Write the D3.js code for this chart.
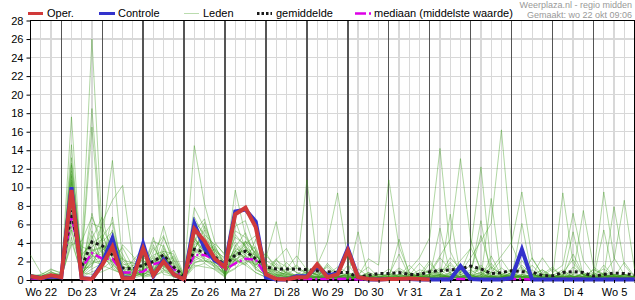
<!DOCTYPE html>
<html>
<head>
<meta charset="utf-8">
<script src="https://d3js.org/d3.v7.min.js"></script>
<style>
body { margin: 0; background: #fff; }
svg { display: block; font-family: "Liberation Sans", Arial, sans-serif; }
</style>
</head>
<body>
<div id="container"></div>
<script>

// day labels (label sits at 12h of each day, steps are 6 hours, first step = wo 22 06h)
var days = ["Wo 22", "Do 23", "Vr 24", "Za 25", "Zo 26", "Ma 27", "Di 28", "Wo 29",
            "Do 30", "Vr 31", "Za 1", "Zo 2", "Ma 3", "Di 4", "Wo 5"];
var yTicks = [0, 2, 4, 6, 8, 10, 12, 14, 16, 18, 20, 22, 24, 26, 28];

// operational run (stops after ~10 days)
var oper = [0.4, 0.2, 0.5, 0.3, 9.7, 0.2, 0.1, 1.6, 3.6, 0.2, 0.2, 3.4, 0.5, 2.0, 0.6,
            0.05, 5.5, 4.2, 2.3, 1.4, 7.1, 7.8, 5.7, 0.6, 0.1, 0.05, 0.3, 0.3, 1.7, 0.3, 0.6,
            3.2, 0.3, 0.1, 0.05, 0.1, 0.1, 0.15, 0.1, 0.05];

var controle = [0.4, 0.2, 0.4, 0.3, 10.0, 0.2, 0.1, 1.8, 4.5, 0.3, 0.2, 3.9, 0.4, 2.2, 0.6,
                0.05, 6.1, 3.4, 2.1, 1.6, 7.4, 7.6, 6.3, 0.3, 0.05, 0.05, 0.4, 0.4, 1.5, 0.5, 0.7,
                3.4, 0.3, 0.05, 0.05, 0.1, 0.1, 0.1, 0.05, 0.05, 0.05, 0.05, 1.5, 0.1, 0.05, 0.05, 0.05,
                0.2, 3.3, 0.05, 0.05, 0.05, 0.05, 0.05, 0.05, 0.05, 0.05, 0.05, 0.05, 0.05];

var gemiddelde = [0.3, 0.3, 0.4, 0.4, 7.5, 1.4, 4.1, 3.7, 2.7, 1.3, 1.2, 1.6, 2.0, 2.7, 1.4,
                  0.4, 3.3, 3.0, 2.5, 1.6, 2.7, 3.1, 2.3, 1.4, 1.2, 1.2, 1.2, 1.1, 1.0, 0.9, 0.8,
                  0.8, 0.3, 0.5, 0.7, 0.7, 0.8, 0.6, 0.6, 0.9, 1.0, 1.1, 1.2, 1.5, 1.2, 0.7, 0.8,
                  1.0, 0.9, 0.85, 0.5, 0.45, 0.8, 0.9, 0.8, 0.4, 0.6, 0.75, 0.7, 0.55];

var mediaan = [0.2, 0.1, 0.3, 0.3, 7.0, 1.3, 2.9, 2.3, 2.3, 0.8, 0.8, 0.9, 1.7, 2.0, 1.2,
               0.3, 2.7, 2.7, 2.2, 1.1, 1.8, 2.3, 2.2, 0.5, 0.2, 0.1, 0.15, 0.1, 0.1, 0.1, 0.1,
               0.15, 0.05, 0.05, 0.05, 0.05, 0.1, 0.05, 0.05, 0.05, 0.1, 0.15, 0.1, 0.1, 0.05, 0.05, 0.05,
               0.1, 0.1, 0.05, 0.05, 0.05, 0.1, 0.15, 0.1, 0.05, 0.1, 0.1, 0.1, 0.1];

// ensemble members ("leden"), one row per member, grouped per day
var leden = [
  "0.5 0.3 0.8 | 0.6 8.2 3.1 26.0 | 5.2 1.4 0.6 0.3 | 1.2 3.5 1.8 0.4 | 0.2 4.8 2.2 1.5 | 0.8 2.4 3.6 1.2 | 0.5 1.8 0.9 0.3 | 0.2 0.6 1.4 0.3 | 0.2 0.5 0.1 0.4 | 1.2 0.3 0.1 0.6 | 2.1 0.4 0.2 0.8 | 3.5 1.2 0.3 0.2 | 0.6 1.4 0.2 0.1 | 0.3 0.8 2.2 0.5 | 0.2 1.6 0.4 0.3 | 0.2",
  "0.2 0.1 0.4 | 0.3 6.5 2.4 18.5 | 4.1 5.2 1.3 0.8 | 0.5 1.4 4.6 2.1 | 0.3 3.2 5.8 3.4 | 2.2 4.1 2.6 1.8 | 0.9 0.4 1.2 2.6 | 1.1 0.5 0.3 0.2 | 0.1 0.4 0.2 0.1 | 0.3 0.1 0.5 1.8 | 0.6 2.4 1.1 0.3 | 0.2 0.1 0.4 1.3 | 0.5 0.2 0.1 0.6 | 1.4 0.3 0.2 0.8 | 0.3 0.2 0.5 0.1 | 0.1",
  "0.3 0.2 0.6 | 0.5 17.6 1.2 5.3 | 2.8 3.1 0.4 1.6 | 2.2 0.8 3.4 1.5 | 0.1 2.8 3.9 2.6 | 1.4 1.6 4.2 3.3 | 1.1 2.3 0.6 0.5 | 0.4 0.2 1.8 0.6 | 0.3 0.1 0.2 0.6 | 0.5 2.8 0.4 0.2 | 0.1 0.3 1.9 0.6 | 0.2 0.1 0.1 0.4 | 0.8 0.3 1.1 0.2 | 0.1 0.5 0.3 0.2 | 0.6 1.2 0.4 0.2 | 0.3",
  "0.4 0.3 0.5 | 0.2 14.6 0.8 3.6 | 4.4 12.9 2.1 0.9 | 1.1 0.6 2.7 0.8 | 0.3 4.1 6.2 2.9 | 1.9 5.3 4.6 2.7 | 1.4 0.6 0.3 0.2 | 0.1 0.4 0.2 0.3 | 1.6 0.4 0.1 0.2 | 0.1 0.2 0.1 0.3 | 0.6 1.1 0.4 1.2 | 0.3 0.1 2.6 0.4 | 0.2 0.6 0.3 0.1 | 0.2 0.1 1.4 0.6 | 0.2 0.1 0.3 1.9 | 0.4",
  "0.2 0.4 0.9 | 0.3 11.2 1.8 2.4 | 6.2 8.6 10.2 2.4 | 0.6 1.2 1.9 2.6 | 0.5 3.6 2.1 1.8 | 0.6 3.2 2.4 1.6 | 2.9 1.1 0.4 0.2 | 0.1 1.2 0.6 0.4 | 0.2 0.6 1.4 0.3 | 0.2 0.1 0.6 0.4 | 0.3 0.2 0.8 0.2 | 0.1 1.6 0.5 0.2 | 0.3 0.4 0.2 0.9 | 0.3 0.2 0.1 0.4 | 0.8 0.3 0.2 0.1 | 0.2",
  "0.1 0.2 0.3 | 0.4 9.4 0.6 4.8 | 1.9 2.2 3.5 1.4 | 0.8 2.6 1.5 0.9 | 0.4 14.5 8.2 4.1 | 2.6 2.1 1.8 4.4 | 1.6 0.8 0.6 1.3 | 0.7 0.3 0.2 0.1 | 0.2 0.3 0.8 0.4 | 0.1 0.3 0.2 0.1 | 0.4 0.2 0.6 0.3 | 0.9 4.8 1.2 0.4 | 0.6 0.2 0.1 0.3 | 0.5 1.1 0.3 0.2 | 0.1 0.4 0.6 0.3 | 0.2",
  "0.6 0.5 1.2 | 0.7 12.4 0.4 3.2 | 3.6 1.8 0.5 0.7 | 2.4 1.8 3.1 0.7 | 0.2 5.6 3.8 1.9 | 1.2 3.6 5.1 2.4 | 0.8 2.2 3.4 1.2 | 10.8 2.1 0.6 0.3 | 0.5 0.2 0.3 0.1 | 0.2 0.6 0.3 0.2 | 0.4 0.8 0.2 0.1 | 0.3 0.5 1.8 0.4 | 0.2 0.1 0.3 0.6 | 0.4 0.2 0.8 0.3 | 0.2 0.1 0.4 0.6 | 0.3",
  "0.3 0.2 0.2 | 0.4 7.8 1.4 6.1 | 5.6 3.4 1.1 0.4 | 0.7 2.1 2.4 3.2 | 0.6 2.3 2.8 3.3 | 1.8 4.6 3.8 1.3 | 2.1 1.4 0.8 0.5 | 0.3 1.6 4.1 9.4 | 2.2 0.6 0.3 0.2 | 0.4 1.3 0.6 0.2 | 0.1 0.3 0.4 0.6 | 1.1 0.4 0.2 0.3 | 0.2 0.5 2.4 0.6 | 0.3 0.2 0.1 0.3 | 0.2 0.6 0.4 0.2 | 0.3",
  "0.5 0.4 0.3 | 0.2 10.6 0.9 7.2 | 2.9 1.2 0.6 0.8 | 3.8 1.1 1.6 0.3 | 0.1 6.4 4.9 3.8 | 1.3 2.8 3.3 2.6 | 1.7 0.6 1.9 0.8 | 0.4 0.9 0.6 1.4 | 0.8 0.4 2.3 1.6 | 10.8 3.6 0.8 0.4 | 0.2 0.6 0.3 0.2 | 0.5 0.2 0.8 2.2 | 0.6 0.3 0.2 0.1 | 0.3 0.6 0.4 0.2 | 1.2 0.5 0.3 0.2 | 0.4",
  "0.2 0.1 0.6 | 0.3 6.2 2.8 3.9 | 4.8 2.6 1.6 1.9 | 1.4 0.4 2.2 1.8 | 0.2 3.8 4.4 2.1 | 0.9 2.2 2.8 3.6 | 0.6 1.1 0.4 0.3 | 0.8 0.6 0.3 1.1 | 0.4 0.2 0.6 0.3 | 0.6 0.4 1.1 2.4 | 4.6 14.2 3.1 0.8 | 0.6 1.2 0.4 0.3 | 0.8 0.3 0.6 0.2 | 0.2 0.9 0.4 0.3 | 0.3 0.2 0.2 0.6 | 0.3",
  "0.3 0.3 0.7 | 0.6 9.8 1.1 2.2 | 3.2 4.1 2.8 0.6 | 0.9 3.8 1.4 0.6 | 0.3 2.6 1.9 2.8 | 1.1 1.8 2.2 1.4 | 0.4 0.2 0.9 1.6 | 0.6 0.3 0.2 0.4 | 0.3 1.2 0.4 0.2 | 0.1 0.2 0.4 1.1 | 0.8 2.6 4.4 13.1 | 4.4 0.8 0.3 0.2 | 0.4 1.6 0.6 0.3 | 0.2 0.4 2.8 0.6 | 0.3 0.4 0.2 0.5 | 0.2",
  "0.4 0.2 0.4 | 0.2 5.4 0.7 1.8 | 2.1 6.8 0.9 0.4 | 0.6 0.9 3.8 1.1 | 0.4 5.2 6.6 2.4 | 0.7 6.4 3.4 2.2 | 1.2 0.6 0.4 0.6 | 1.3 0.5 0.9 0.4 | 0.2 0.4 0.2 0.6 | 0.3 0.6 0.2 0.4 | 0.6 1.3 0.8 2.1 | 3.4 12.2 1.4 0.6 | 0.3 0.2 0.6 1.1 | 0.4 0.3 0.2 0.6 | 0.2 0.8 0.5 0.3 | 0.2",
  "0.2 0.3 0.5 | 0.4 8.6 1.6 2.8 | 1.4 3.3 0.8 0.3 | 1.6 2.4 0.6 0.4 | 0.2 1.8 2.4 1.7 | 0.5 3.1 4.2 1.9 | 0.9 0.4 0.2 0.3 | 0.6 0.8 0.4 0.2 | 0.3 0.2 0.5 0.2 | 0.6 0.3 0.4 0.8 | 0.5 0.9 1.6 0.8 | 2.4 4.2 6.1 16.2 | 3.8 1.2 0.6 0.3 | 0.2 0.4 0.2 0.3 | 1.1 0.6 0.3 0.2 | 0.4",
  "0.1 0.1 0.3 | 0.2 6.8 0.5 1.6 | 3.8 2.4 0.3 0.2 | 0.5 1.6 2.9 0.8 | 0.1 4.4 3.2 1.3 | 0.6 3.8 2.1 1.7 | 0.5 0.3 0.1 0.2 | 0.4 0.2 0.6 0.3 | 0.1 0.2 0.3 0.1 | 0.2 0.4 0.3 0.6 | 0.9 0.4 0.3 0.2 | 0.5 0.8 1.2 2.6 | 4.1 9.5 2.3 0.6 | 0.4 9.4 1.8 0.6 | 0.3 0.6 0.4 0.3 | 0.2",
  "0.3 0.4 0.4 | 0.5 8.8 0.6 2.6 | 2.4 1.6 0.8 1.2 | 0.4 0.7 1.3 2.2 | 0.3 3.3 5.4 2.1 | 0.8 1.9 2.6 1.1 | 0.6 1.4 0.5 0.3 | 0.2 0.3 1.6 0.4 | 0.6 0.3 0.2 0.4 | 0.2 0.4 1.6 0.5 | 0.3 0.2 0.6 0.4 | 0.2 0.6 0.3 0.8 | 0.4 0.2 0.5 2.4 | 0.8 1.6 7.2 2.1 | 0.6 9.5 2.4 0.6 | 0.4",
  "0.2 0.2 0.3 | 0.3 7.2 0.4 1.2 | 1.8 3.8 0.4 0.6 | 1.9 0.4 0.9 0.5 | 0.1 2.1 2.6 3.4 | 0.3 5.8 6.4 3.1 | 0.4 0.2 0.1 0.6 | 0.4 1.1 0.3 0.2 | 0.3 0.6 0.2 0.1 | 0.4 0.2 0.3 0.2 | 0.6 0.3 0.2 1.4 | 0.5 0.3 0.4 0.2 | 0.8 0.3 1.6 0.4 | 0.3 0.2 0.6 7.5 | 1.4 0.6 2.2 8.6 | 1.2",
  "0.4 0.2 0.2 | 0.2 4.6 0.3 0.9 | 1.2 2.1 0.2 0.3 | 0.8 0.3 1.1 0.6 | 0.2 1.6 1.4 1.2 | 0.4 2.3 1.6 0.8 | 0.3 0.1 0.2 0.4 | 0.2 0.1 0.3 0.1 | 0.2 0.1 0.1 0.3 | 0.1 0.2 0.1 0.4 | 0.2 0.6 0.3 0.2 | 0.4 0.8 0.3 0.5 | 0.2 0.6 0.3 0.4 | 1.2 0.4 0.2 0.8 | 0.3 0.5 7.9 1.6 | 0.3",
  "0.3 0.6 1.1 | 0.8 11.8 0.7 1.9 | 2.6 5.4 1.8 1.1 | 0.3 0.5 2.6 1.3 | 0.6 4.6 2.9 2.2 | 0.9 2.6 3.9 4.8 | 2.4 6.3 1.1 0.4 | 0.3 0.2 0.5 0.3 | 0.6 0.4 0.1 0.2 | 0.3 0.2 0.8 0.3 | 0.2 0.4 0.3 0.6 | 0.3 0.2 0.5 0.4 | 0.3 1.2 0.4 0.2 | 0.2 0.3 0.4 0.2 | 0.6 0.3 0.2 0.5 | 0.2",
  "2.7 0.8 0.3 | 0.4 12.6 2.2 4.4 | 6.8 2.4 0.8 0.5 | 1.3 4.2 3.6 0.9 | 0.3 7.8 5.6 2.9 | 1.6 9.7 4.8 2.8 | 0.9 0.5 0.3 0.2 | 1.1 0.4 0.2 0.6 | 0.4 0.2 0.3 0.1 | 0.2 0.6 0.4 0.2 | 0.3 0.5 0.2 0.3 | 0.6 0.2 0.3 0.4 | 0.2 0.4 0.3 0.2 | 0.4 0.2 0.3 0.6 | 0.2 0.3 0.4 0.3 | 0.2",
  "0.6 0.4 0.2 | 0.5 13.2 1.9 16.5 | 3.1 4.6 1.2 1.6 | 0.9 1.9 5.8 1.9 | 0.4 2.9 4.1 1.6 | 1.2 4.9 3.6 2.6 | 1.8 0.9 0.6 0.4 | 0.5 0.2 0.8 0.3 | 0.2 0.3 0.6 0.3 | 0.4 0.2 0.3 0.6 | 0.4 5.6 0.6 0.8 | 1.6 0.6 0.3 0.2 | 0.3 0.4 0.2 0.3 | 0.6 0.3 0.2 0.4 | 0.3 0.2 0.6 0.4 | 0.3",
  "0.1 0.3 0.4 | 0.6 10.4 0.3 3.4 | 2.2 3.2 0.9 0.7 | 2.8 1.3 2.2 1.1 | 0.2 5.1 3.6 2.6 | 1.5 3.4 2.9 2.1 | 1.3 0.4 0.3 0.2 | 0.3 0.4 0.2 0.2 | 0.8 0.3 0.2 0.6 | 0.3 1.1 0.4 0.2 | 1.2 0.4 0.8 0.3 | 0.6 6.4 0.2 0.3 | 0.5 0.3 0.4 1.1 | 0.3 0.2 0.6 0.3 | 0.2 0.4 0.3 0.2 | 0.4",
  "0.4 0.1 0.3 | 0.2 5.8 0.6 2.1 | 1.6 1.1 0.7 2.1 | 3.4 0.6 1.7 0.7 | 0.5 3.1 2.6 3.9 | 2.8 2.1 1.6 3.2 | 0.7 0.3 0.2 0.1 | 0.2 0.1 0.4 0.6 | 0.3 0.2 0.8 0.4 | 0.2 0.3 0.1 0.2 | 0.6 0.3 7.1 0.4 | 0.8 1.3 0.4 0.2 | 0.6 0.3 0.2 0.3 | 0.2 0.6 0.4 0.2 | 0.3 0.2 0.3 0.6 | 0.3",
  "0.2 0.5 0.6 | 0.3 3.8 4.2 6.8 | 4.2 1.9 2.4 0.9 | 0.6 3.1 4.8 1.6 | 0.4 2.4 3.3 2.4 | 0.6 1.2 2.7 1.6 | 2.6 1.6 0.7 0.3 | 0.9 0.6 0.3 0.2 | 0.2 0.4 0.3 0.2 | 0.8 0.4 0.2 0.4 | 0.3 0.6 2.4 1.2 | 0.4 0.2 8.8 0.3 | 0.4 2.1 0.6 0.3 | 0.4 0.2 0.3 0.4 | 0.6 0.4 0.2 0.3 | 0.2",
  "0.3 0.2 0.1 | 0.2 9.1 0.5 2.9 | 2.7 2.9 1.4 1.3 | 0.4 0.8 2.9 0.6 | 0.1 1.4 1.8 1.1 | 0.3 2.2 3.1 2.4 | 0.6 2.1 1.4 0.8 | 0.4 0.3 0.6 0.2 | 0.1 0.3 0.4 0.2 | 0.6 0.3 0.2 0.3 | 1.8 0.6 0.4 0.3 | 0.2 0.4 0.3 0.6 | 1.1 0.4 0.2 0.3 | 0.2 0.3 5.2 0.4 | 0.2 0.3 0.6 0.4 | 0.3",
  "0.5 0.3 0.9 | 0.4 11.4 1.3 1.4 | 4.6 6.2 1.2 0.4 | 0.8 2.2 1.1 0.3 | 0.3 6.8 4.6 3.1 | 2.4 2.7 4.1 2.9 | 0.8 0.6 0.4 0.2 | 0.6 0.3 0.2 0.8 | 0.4 0.2 0.1 0.2 | 0.3 0.4 0.6 0.3 | 0.2 0.3 0.4 0.2 | 0.4 0.3 1.4 0.6 | 0.3 6.1 0.4 0.6 | 0.3 0.4 0.3 0.2 | 0.4 0.6 0.3 0.2 | 0.4",
  "0.3 0.1 0.2 | 0.2 4.1 0.8 0.6 | 0.9 1.4 3.8 2.6 | 1.2 4.6 1.2 0.6 | 0.3 1.9 2.1 1.4 | 0.7 1.3 1.9 0.8 | 0.3 0.2 0.1 0.2 | 0.1 0.3 0.2 0.4 | 0.2 0.1 0.4 0.2 | 0.1 0.2 0.3 0.6 | 0.3 0.2 0.4 0.3 | 0.2 0.6 0.2 0.3 | 0.2 0.3 0.6 0.2 | 0.4 0.2 0.3 0.3 | 0.2 5.4 0.3 0.6 | 0.2",
  "0.4 0.3 0.4 | 0.3 8.1 3.6 3.1 | 3.5 3.7 0.6 1.1 | 2.1 1.1 1.9 2.4 | 0.4 4.2 3.1 3.6 | 1.8 3.1 2.3 2.1 | 1.6 0.8 0.3 0.2 | 0.2 0.8 0.4 0.3 | 0.6 0.2 0.2 0.3 | 0.2 4.4 0.6 0.2 | 0.4 0.6 0.2 0.4 | 0.3 0.2 0.8 0.6 | 0.4 0.3 0.2 0.4 | 0.6 0.3 0.4 0.2 | 0.3 0.2 0.4 0.3 | 0.2",
  "0.6 0.2 0.5 | 0.6 10.8 2.6 4.2 | 1.3 4.8 2.2 1.8 | 1.6 2.7 3.1 2.8 | 0.4 3.4 4.8 1.9 | 1.1 2.6 3.2 2.1 | 0.5 0.4 0.8 0.2 | 0.3 0.2 0.3 0.2 | 0.4 5.2 0.3 0.1 | 0.3 0.2 0.4 0.2 | 0.3 0.2 0.3 0.4 | 0.6 0.3 0.2 0.3 | 0.2 0.4 0.6 0.3 | 0.2 0.3 0.4 0.6 | 0.2 0.4 0.3 0.2 | 0.3"
];

var width = 635;
var height = 300;
var nSteps = 60;

var members = leden.map(s => s.split(/[\s|]+/).filter(t => t !== "").map(Number));

var x = d3.scaleLinear().domain([0, nSteps - 1]).range([30.5, 634.5]);
var y = d3.scaleLinear().domain([0, 28]).range([280, 20.5]);

var steps = d3.range(nSteps);
var dayStarts = days.map((d, i) => i * 4 - 1).filter(i => i > 0);
var labelSteps = days.map((d, i) => i * 4 + 1);

var svg = d3.select("#container")
            .append("svg")
            .attr("width", width)
            .attr("height", height)

// grid
var grid = svg.append("g").attr("shape-rendering", "crispEdges");
grid.selectAll(".hgrid")
    .data(yTicks.filter(t => t > 0 && t < 28))
    .enter().append("line")
    .attr("x1", x(0)).attr("x2", x(nSteps - 1))
    .attr("y1", d => y(d)).attr("y2", d => y(d))
    .attr("stroke", "#d8d8d8").attr("stroke-width", 1.2);

grid.selectAll(".vgrid")
    .data(steps.filter(i => i > 0 && i < nSteps - 1 && dayStarts.indexOf(i) < 0))
    .enter().append("line")
    .attr("x1", d => x(d)).attr("x2", d => x(d))
    .attr("y1", y(28)).attr("y2", y(0))
    .attr("stroke", "#d8d8d8").attr("stroke-width", 1.2);

grid.selectAll(".dgrid")
    .data(dayStarts)
    .enter().append("line")
    .attr("x1", d => x(d)).attr("x2", d => x(d))
    .attr("y1", y(28)).attr("y2", y(0))
    .attr("stroke", "#555").attr("stroke-width", 1.3);

// frame
svg.append("rect")
   .attr("x", x(0)).attr("y", y(28))
   .attr("width", x(nSteps - 1) - x(0)).attr("height", y(0) - y(28))
   .attr("fill", "none").attr("stroke", "#000").attr("stroke-width", 1.2)
   .attr("shape-rendering", "crispEdges");

var line = d3.line().x((d, i) => x(i)).y(d => y(d));

// members
svg.append("g").selectAll("path")
   .data(members)
   .enter().append("path")
   .attr("d", line)
   .attr("fill", "none")
   .attr("stroke", "#3a9a18")
   .attr("stroke-opacity", 0.4)
   .attr("stroke-width", 1);

svg.append("path").datum(mediaan)
   .attr("d", line).attr("fill", "none")
   .attr("stroke", "#dd00e6").attr("stroke-width", 2.5)
   .attr("stroke-dasharray", "9,3,2,3");

svg.append("path").datum(gemiddelde)
   .attr("d", line).attr("fill", "none")
   .attr("stroke", "#1a1a1a").attr("stroke-width", 3)
   .attr("stroke-dasharray", "3,3");

svg.append("path").datum(controle)
   .attr("d", line).attr("fill", "none")
   .attr("stroke", "#3333cc").attr("stroke-width", 4);

svg.append("path").datum(oper)
   .attr("d", line).attr("fill", "none")
   .attr("stroke", "#d03a3a").attr("stroke-width", 4);

// axes
var yAxis = d3.axisLeft(y).tickValues(yTicks).tickSize(4).tickPadding(3);
svg.append("g")
   .attr("transform", "translate(" + x(0) + ",0)")
   .call(yAxis)
   .attr("font-size", 11)
   .attr("font-family", null)
   .call(g => g.select(".domain").remove());

svg.append("g")
   .attr("transform", "translate(0," + y(0) + ")")
   .call(d3.axisBottom(x).tickValues(steps).tickSize(3).tickFormat(""))
   .call(g => g.select(".domain").remove());

svg.append("g")
   .attr("transform", "translate(0," + y(0) + ")")
   .call(d3.axisBottom(x).tickValues(labelSteps).tickSize(0).tickPadding(8)
           .tickFormat((d, i) => days[i]))
   .attr("font-size", 11)
   .attr("font-family", null)
   .call(g => g.select(".domain").remove());

// legend
var legend = svg.append("g").attr("font-size", 11);
var ly = 13.5;

legend.append("line").attr("x1", 28).attr("x2", 43).attr("y1", ly).attr("y2", ly)
      .attr("stroke", "#d03a3a").attr("stroke-width", 3);
legend.append("text").attr("x", 47).attr("y", 17.3).text("Oper.");

legend.append("line").attr("x1", 99).attr("x2", 115).attr("y1", ly).attr("y2", ly)
      .attr("stroke", "#3333cc").attr("stroke-width", 3);
legend.append("text").attr("x", 118).attr("y", 17.3).text("Controle");

legend.append("line").attr("x1", 184).attr("x2", 199).attr("y1", ly).attr("y2", ly)
      .attr("stroke", "#3a9a18").attr("stroke-opacity", 0.35).attr("stroke-width", 1);
legend.append("text").attr("x", 203).attr("y", 17.3).text("Leden");

legend.append("line").attr("x1", 257).attr("x2", 272).attr("y1", ly).attr("y2", ly)
      .attr("stroke", "#1a1a1a").attr("stroke-width", 3).attr("stroke-dasharray", "2.5,2");
legend.append("text").attr("x", 276).attr("y", 17.3).text("gemiddelde");

legend.append("line").attr("x1", 355).attr("x2", 372).attr("y1", ly).attr("y2", ly)
      .attr("stroke", "#dd00e6").attr("stroke-width", 2.5).attr("stroke-dasharray", "11,3,2,3");
legend.append("text").attr("x", 374).attr("y", 17.3).text("mediaan (middelste waarde)");

svg.append("text").attr("x", 632).attr("y", 7.5)
   .attr("text-anchor", "end").attr("font-size", 9).attr("fill", "#999")
   .text("Weerplaza.nl - regio midden");
svg.append("text").attr("x", 632).attr("y", 17.5)
   .attr("text-anchor", "end").attr("font-size", 9).attr("fill", "#999")
   .text("Gemaakt: wo 22 okt 09:06");

</script>
</body>
</html>
